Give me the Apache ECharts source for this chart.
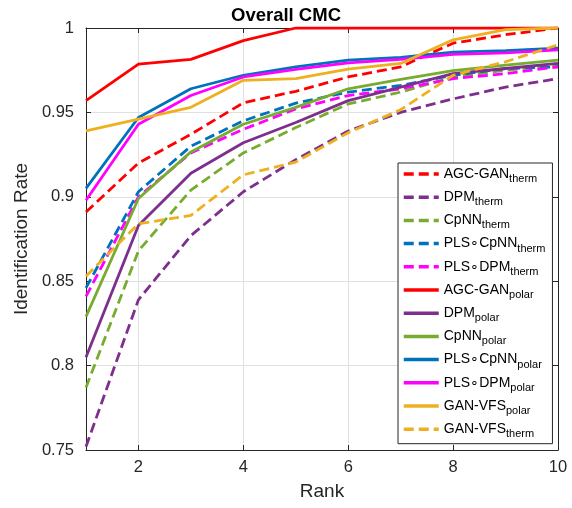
<!DOCTYPE html>
<html>
<head>
<meta charset="utf-8">
<script src="https://cdn.jsdelivr.net/npm/echarts@6/dist/echarts.min.js"></script>
<style>
  html, body { margin: 0; padding: 0; background: #fff; }
  #main { width: 572px; height: 508px; }
</style>
</head>
<body>
<div id="main"></div>
<script>
var ranks = ['1', '2', '3', '4', '5', '6', '7', '8', '9', '10'];

var agcGanTherm  = [0.891, 0.920, 0.937, 0.9557, 0.9625, 0.971, 0.977, 0.991, 0.996, 1.000];
var dpmTherm     = [0.752, 0.839, 0.877, 0.903, 0.922, 0.939, 0.950, 0.958, 0.965, 0.970];
var cpnnTherm    = [0.787, 0.868, 0.904, 0.926, 0.941, 0.955, 0.962, 0.971, 0.975, 0.978];
var plsCpnnTherm = [0.846, 0.903, 0.930, 0.945, 0.9555, 0.962, 0.966, 0.972, 0.976, 0.977];
var plsDpmTherm  = [0.841, 0.900, 0.926, 0.940, 0.952, 0.960, 0.964, 0.970, 0.973, 0.977];
var agcGanPolar  = [0.957, 0.9786, 0.9814, 0.9925, 1.000, 1.000, 1.000, 1.000, 1.000, 1.000];
var dpmPolar     = [0.805, 0.883, 0.914, 0.932, 0.944, 0.957, 0.965, 0.973, 0.976, 0.979];
var cpnnPolar    = [0.829, 0.899, 0.9266, 0.943, 0.953, 0.964, 0.9695, 0.9747, 0.978, 0.981];
var plsCpnnPolar = [0.905, 0.947, 0.964, 0.972, 0.977, 0.981, 0.9826, 0.9857, 0.9866, 0.988];
var plsDpmPolar  = [0.898, 0.943, 0.960, 0.971, 0.9755, 0.9794, 0.9814, 0.9844, 0.9853, 0.987];
var ganVfsPolar  = [0.939, 0.946, 0.953, 0.969, 0.970, 0.9757, 0.979, 0.993, 0.999, 1.000];
var ganVfsTherm  = [0.853, 0.884, 0.889, 0.913, 0.9206, 0.938, 0.9516, 0.972, 0.980, 0.990];

var RED = '#FF0000', PURPLE = '#7E2F8E', GREEN = '#77AC30',
    BLUE = '#0072BD', MAGENTA = '#FF00FF', ORANGE = '#EDB120';

// name | subscript | data | colour | dashed
var lines = [
	['AGC-GAN', 'therm', agcGanTherm, RED, true],
	['DPM', 'therm', dpmTherm, PURPLE, true],
	['CpNN', 'therm', cpnnTherm, GREEN, true],
	['PLS\u2218CpNN', 'therm', plsCpnnTherm, BLUE, true],
	['PLS\u2218DPM', 'therm', plsDpmTherm, MAGENTA, true],
	['AGC-GAN', 'polar', agcGanPolar, RED, false],
	['DPM', 'polar', dpmPolar, PURPLE, false],
	['CpNN', 'polar', cpnnPolar, GREEN, false],
	['PLS\u2218CpNN', 'polar', plsCpnnPolar, BLUE, false],
	['PLS\u2218DPM', 'polar', plsDpmPolar, MAGENTA, false],
	['GAN-VFS', 'polar', ganVfsPolar, ORANGE, false],
	['GAN-VFS', 'therm', ganVfsTherm, ORANGE, true]
];

var FONT = 'Liberation Sans';
var TXT = '#262626';

var series = lines.map(function (l) {
	return {
		name: l[0] + ' ' + l[1],
		type: 'line',
		data: l[2],
		symbol: 'none',
		color: l[3],
		lineStyle: { color: l[3], width: 2.8, type: l[4] ? [10, 5] : 'solid' },
		animation: false
	};
});

var evenIdx = function (index) { return index % 2 === 1; };

var myChart = echarts.init(document.getElementById('main'));
option = {
	title: {
		text: 'Overall CMC',
		left: 'center',
		top: 1,
		textStyle: { fontFamily: FONT, fontSize: 18.5, fontWeight: 'bold', color: '#000' }
	},
	legend: {
		orient: 'vertical',
		left: 398,
		top: 163,
		padding: [4, 7, 4, 4],
		itemWidth: 35,
		itemHeight: 14,
		itemGap: 5.7,
		backgroundColor: '#fff',
		borderColor: TXT,
		borderWidth: 1,
		borderRadius: 0,
		itemStyle: { opacity: 0 },
		lineStyle: { width: 3.5 },
		data: series.map(function (s) { return s.name; }),
		formatter: function (name) {
			var p = name.split(' ');
			return '{m|' + p[0] + '}{s|' + p[1] + '}';
		},
		textStyle: {
			fontFamily: FONT,
			color: '#000',
			rich: {
				m: { fontFamily: FONT, fontSize: 14, color: '#000' },
				s: { fontFamily: FONT, fontSize: 11, color: '#000', padding: [10, 0, 0, 0] }
			}
		}
	},
	grid: { left: 86, right: 14, top: 28, bottom: 58 },
	xAxis: [{
		type: 'category',
		data: ranks,
		boundaryGap: false,
		name: 'Rank',
		nameLocation: 'middle',
		nameGap: 32,
		nameTextStyle: { fontFamily: FONT, fontSize: 19, color: TXT },
		axisLine: { lineStyle: { color: TXT, width: 1 } },
		axisTick: { inside: true, length: 5, interval: evenIdx, lineStyle: { color: TXT } },
		axisLabel: { interval: evenIdx, fontFamily: FONT, fontSize: 16.5, color: TXT, margin: 9 },
		splitLine: { show: true, interval: evenIdx, lineStyle: { color: '#e0e0e0', width: 1 } }
	}, {
		type: 'category',
		data: ranks,
		boundaryGap: false,
		position: 'top',
		axisLine: { lineStyle: { color: TXT, width: 1 } },
		axisTick: { inside: true, length: 5, interval: evenIdx, lineStyle: { color: TXT } },
		axisLabel: { show: false },
		splitLine: { show: false }
	}],
	yAxis: [{
		type: 'value',
		min: 0.75,
		max: 1,
		interval: 0.05,
		name: 'Identification Rate',
		nameLocation: 'middle',
		nameGap: 53,
		nameTextStyle: { fontFamily: FONT, fontSize: 19, color: TXT },
		axisLine: { show: true, lineStyle: { color: TXT, width: 1 } },
		axisTick: { show: true, inside: true, length: 5, lineStyle: { color: TXT } },
		axisLabel: { fontFamily: FONT, fontSize: 16.5, color: TXT, margin: 12 },
		splitLine: { show: true, lineStyle: { color: '#e0e0e0', width: 1 } }
	}, {
		type: 'value',
		min: 0.75,
		max: 1,
		interval: 0.05,
		position: 'right',
		axisLine: { show: true, lineStyle: { color: TXT, width: 1 } },
		axisTick: { show: true, inside: true, length: 5, lineStyle: { color: TXT } },
		axisLabel: { show: false },
		splitLine: { show: false }
	}],
	series: series
};
if (option && typeof option === "object") {
	myChart.setOption(option, true);
}
</script>
</body>
</html>
